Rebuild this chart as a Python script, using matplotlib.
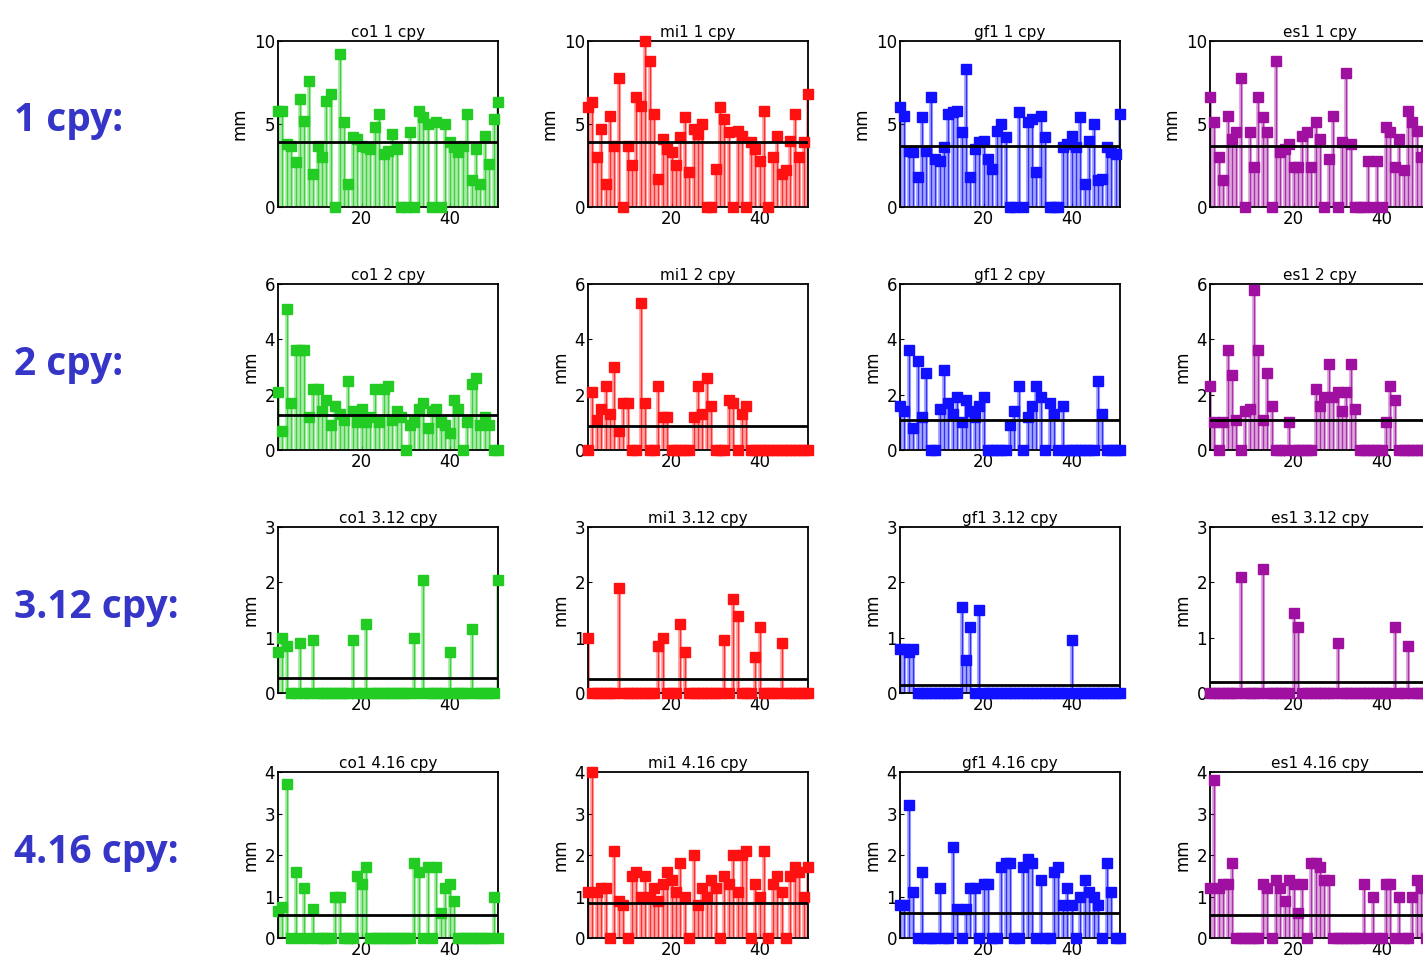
import matplotlib.pyplot as plt
import numpy as np

stations = ['co1', 'mi1', 'gf1', 'es1']
colors = ['#22cc22', '#ff1111', '#1111ff', '#a010a0']
freqs = ['1', '2', '3.12', '4.16']
row_labels = ['1 cpy:', '2 cpy:', '3.12 cpy:', '4.16 cpy:']
ymax = [10, 6, 3, 4]
yticks = [[0, 5, 10], [0, 2, 4, 6], [0, 1, 2, 3], [0, 1, 2, 3, 4]]

# amplitude per year (x = 1..51), [row][col]
amp = [
    [
        [5.8, 5.8, 3.8, 3.7, 2.7, 6.5, 5.2, 7.6, 2.0, 3.7, 3.0, 6.4, 6.8, 0, 9.2, 5.1, 1.4, 4.2, 4.1, 3.7,
         3.6, 3.5, 4.8, 5.6, 3.2, 3.4, 4.4, 3.5, 0, 0, 4.5, 0, 5.8, 5.4, 5.0, 0, 5.1, 0, 5.0, 3.9,
         3.6, 3.3, 3.7, 5.6, 1.6, 3.5, 1.4, 4.3, 2.6, 5.3, 6.3],
        [6.0, 6.3, 3.0, 4.7, 1.4, 5.5, 3.7, 7.8, 0, 3.7, 2.5, 6.6, 6.1, 10.0, 8.8, 5.6, 1.7, 4.1, 3.5, 3.3,
         2.5, 4.2, 5.4, 2.1, 4.7, 4.4, 5.0, 0, 0, 2.3, 6.0, 5.3, 4.5, 0, 4.6, 4.3, 0, 3.9, 3.5, 2.8,
         5.8, 0, 3.0, 4.3, 2.0, 2.2, 4.0, 5.6, 3.0, 3.9, 6.8],
        [6.0, 5.5, 3.4, 3.3, 1.8, 5.4, 3.4, 6.6, 2.9, 2.8, 3.6, 5.6, 5.7, 5.8, 4.5, 8.3, 1.8, 3.5, 3.9, 4.0,
         2.9, 2.3, 4.6, 5.0, 4.2, 0, 0, 5.7, 0, 5.1, 5.3, 2.1, 5.5, 4.2, 0, 0, 0, 3.6, 3.8, 4.3,
         3.6, 5.4, 1.4, 4.0, 5.0, 1.6, 1.7, 3.6, 3.3, 3.2, 5.6],
        [6.6, 5.1, 3.0, 1.6, 5.5, 4.1, 4.5, 7.8, 0, 4.5, 2.4, 6.6, 5.4, 4.5, 0, 8.8, 3.3, 3.5, 3.8, 2.4,
         2.4, 4.3, 4.5, 2.4, 5.1, 4.1, 0, 2.9, 5.5, 0, 3.9, 8.1, 3.8, 0, 0, 0, 2.8, 0, 2.8, 0,
         4.8, 4.5, 2.4, 4.1, 2.2, 5.8, 5.1, 4.6, 3.0, 3.3, 3.1],
    ],
    [
        [2.1, 0.7, 5.1, 1.7, 3.6, 3.6, 3.6, 1.2, 2.2, 2.2, 1.4, 1.8, 0.9, 1.6, 1.3, 1.1, 2.5, 1.4, 1.0, 1.5,
         1.0, 1.2, 2.2, 1.0, 2.2, 2.3, 1.1, 1.4, 1.2, 0, 0.9, 1.0, 1.5, 1.7, 0.8, 1.4, 1.5, 1.0, 0.9, 0.6,
         1.8, 1.5, 0, 1.0, 2.4, 2.6, 0.9, 1.2, 0.9, 0, 0],
        [0, 2.1, 1.1, 1.5, 2.3, 1.3, 3.0, 0.7, 1.7, 1.7, 0, 0, 5.3, 1.7, 0, 0, 2.3, 1.2, 1.2, 0,
         0, 0, 0, 0, 1.2, 2.3, 1.3, 2.6, 1.6, 0, 0, 0, 1.8, 1.7, 0, 1.3, 1.6, 0, 0, 0,
         0, 0, 0, 0, 0, 0, 0, 0, 0, 0, 0],
        [1.6, 1.4, 3.6, 0.8, 3.2, 1.2, 2.8, 0, 0, 1.5, 2.9, 1.7, 1.3, 1.9, 1.0, 1.8, 1.4, 1.2, 1.6, 1.9,
         0, 0, 0, 0, 0, 0.9, 1.4, 2.3, 0, 1.2, 1.6, 2.3, 1.9, 0, 1.7, 1.3, 0, 1.6, 0, 0,
         0, 0, 0, 0, 0, 2.5, 1.3, 0, 0, 0, 0],
        [2.3, 1.0, 0, 1.0, 3.6, 2.7, 1.1, 0, 1.4, 1.5, 5.8, 3.6, 1.1, 2.8, 1.6, 0, 0, 0, 1.0, 0,
         0, 0, 0, 0, 2.2, 1.6, 1.9, 3.1, 1.9, 2.1, 1.4, 2.1, 3.1, 1.5, 0, 0, 0, 0, 0, 0,
         1.0, 2.3, 1.8, 0, 0, 0, 0, 0, 0, 0, 0],
    ],
    [
        [0.75, 1.0, 0.85, 0, 0, 0.9, 0, 0, 0.95, 0, 0, 0, 0, 0, 0, 0, 0, 0.95, 0, 0,
         1.25, 0, 0, 0, 0, 0, 0, 0, 0, 0, 0, 1.0, 0, 2.05, 0, 0, 0, 0, 0, 0.75,
         0, 0, 0, 0, 1.15, 0, 0, 0, 0, 0, 2.05],
        [1.0, 0, 0, 0, 0, 0, 0, 1.9, 0, 0, 0, 0, 0, 0, 0, 0, 0.85, 1.0, 0, 0,
         0, 1.25, 0.75, 0, 0, 0, 0, 0, 0, 0, 0, 0.95, 0, 1.7, 1.4, 0, 0, 0, 0.65, 1.2,
         0, 0, 0, 0, 0.9, 0, 0, 0, 0, 0, 0],
        [0.8, 0.8, 0.75, 0.8, 0, 0, 0, 0, 0, 0, 0, 0, 0, 0, 1.55, 0.6, 1.2, 0, 1.5, 0,
         0, 0, 0, 0, 0, 0, 0, 0, 0, 0, 0, 0, 0, 0, 0, 0, 0, 0, 0, 0.95,
         0, 0, 0, 0, 0, 0, 0, 0, 0, 0, 0],
        [0, 0, 0, 0, 0, 0, 0, 2.1, 0, 0, 0, 0, 2.25, 0, 0, 0, 0, 0, 0, 1.45,
         1.2, 0, 0, 0, 0, 0, 0, 0, 0, 0.9, 0, 0, 0, 0, 0, 0, 0, 0, 0, 0,
         0, 0, 1.2, 0, 0, 0.85, 0, 0, 0, 0, 0],
    ],
    [
        [0.65, 0.75, 3.7, 0, 1.6, 0, 1.2, 0, 0.7, 0, 0, 0, 0, 1.0, 1.0, 0, 0, 0, 1.5, 1.3,
         1.7, 0, 0, 0, 0, 0, 0, 0, 0, 0, 0, 1.8, 1.6, 0, 1.7, 0, 1.7, 0.6, 1.2, 1.3,
         0.9, 0, 0, 0, 0, 0, 0, 0, 0, 1.0, 0],
        [1.1, 4.0, 1.1, 1.2, 1.2, 0, 2.1, 0.9, 0.8, 0, 1.5, 1.6, 1.0, 1.5, 1.0, 1.2, 0.9, 1.3, 1.6, 1.4,
         1.1, 1.8, 1.0, 0, 2.0, 0.8, 1.2, 1.0, 1.4, 1.2, 0, 1.5, 1.3, 2.0, 1.1, 2.0, 2.1, 0, 1.3, 1.0,
         2.1, 0, 1.3, 1.5, 1.1, 0, 1.5, 1.7, 1.6, 1.0, 1.7],
        [0.8, 0.8, 3.2, 1.1, 0, 1.6, 0, 0, 0, 1.2, 0, 0, 2.2, 0.7, 0, 0.7, 1.2, 1.2, 0, 1.3,
         1.3, 0, 0, 1.7, 1.8, 1.8, 0, 0, 1.7, 1.9, 1.8, 0, 1.4, 0, 0, 1.6, 1.7, 0.8, 1.2, 0.8,
         0, 1.0, 1.4, 1.1, 1.0, 0.8, 0, 1.8, 1.1, 0, 0],
        [1.2, 3.8, 1.2, 1.3, 1.3, 1.8, 0, 0, 0, 0, 0, 0, 1.3, 1.2, 0, 1.4, 1.2, 0.9, 1.4, 1.3,
         0.6, 1.3, 0, 1.8, 1.8, 1.7, 1.4, 1.4, 0, 0, 0, 0, 0, 0, 0, 1.3, 0, 1.0, 0, 0,
         1.3, 1.3, 0, 1.0, 0, 0, 1.0, 1.4, 1.2, 0, 1.2],
    ],
]
means = [[3.9, 3.9, 3.7, 3.7], [1.25, 0.85, 1.1, 1.1], [0.28, 0.25, 0.15, 0.2], [0.55, 0.85, 0.6, 0.55]]

W, H = 1423, 963
fig = plt.figure(figsize=(W / 100, H / 100), dpi=100)
lefts = [278, 588, 900, 1210]
tops = [41, 284, 527, 772]
aw, ah = 220, 166

for r in range(4):
    fig.text(14 / W, 1 - (tops[r] + 80) / H, row_labels[r], fontsize=28, fontweight='bold',
             family='Open Sans', color='#3535c8', va='center', ha='left')
    for c in range(4):
        ax = fig.add_axes([lefts[c] / W, 1 - (tops[r] + ah) / H, aw / W, ah / H])
        y = np.array(amp[r][c])
        x = np.arange(1, len(y) + 1)
        ax.vlines(x, 0, y, color=colors[c], alpha=0.35, lw=3)
        ax.vlines(x, 0, y, color=colors[c], alpha=0.8, lw=1)
        ax.plot(x, y, 's', color=colors[c], ms=7, clip_on=False, zorder=3)
        ax.axhline(means[r][c], color='black', lw=2, zorder=4)
        ax.set_xlim(1, 51)
        ax.set_ylim(0, ymax[r])
        ax.set_xticks([20, 40])
        ax.set_yticks(yticks[r])
        ax.tick_params(labelsize=12, direction='in', length=3, pad=2)
        ax.set_ylabel('mm', fontsize=12)
        ax.set_title(f'{stations[c]} {freqs[r]} cpy', fontsize=11, pad=3)
        for s in ax.spines.values():
            s.set_linewidth(1.3)

fig.savefig('out.png', dpi=100)
